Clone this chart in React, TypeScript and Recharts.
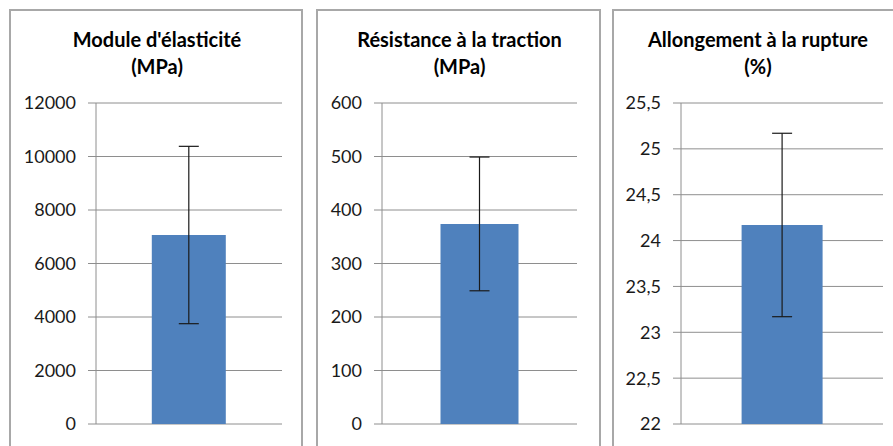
import { Bar, BarChart, CartesianGrid, ErrorBar, XAxis, YAxis } from "recharts";

const moduleData = [{ name: "E", value: 7065, err: 3315 }];
const moduleTicks = [0, 2000, 4000, 6000, 8000, 10000, 12000];

const tractionData = [{ name: "Rm", value: 374, err: 125 }];
const tractionTicks = [0, 100, 200, 300, 400, 500, 600];

const allongData = [{ name: "A", value: 24.17, err: 1.0 }];
const allongTicks = [22, 22.5, 23, 23.5, 24, 24.5, 25, 25.5];

const FONT = "Lato, 'Liberation Sans', sans-serif";
const GRID = "#8e8e8e";

type PanelProps = {
  left: number;
  width: number;
  plotLeft: number;
  plotRight: number;
  title: string[];
  data: { name: string; value: number; err: number }[];
  ticks: number[];
  comma?: boolean;
};

function Panel({ left, width, plotLeft, plotRight, title, data, ticks, comma }: PanelProps) {
  const top = 10;
  const height = 436;
  return (
    <>
      <div
        style={{
          position: "absolute",
          left: left - 1,
          top: top - 1,
          width,
          height: 460,
          border: "2px solid #a8a8a8",
          boxSizing: "border-box",
          background: "#fff",
        }}
      />
      <div
        style={{
          position: "absolute",
          left,
          top: 26,
          width,
          textAlign: "center",
          fontFamily: FONT,
          fontWeight: 700,
          fontSize: 20,
          lineHeight: "27px",
          color: "#000",
        }}
      >
        {title.map((t) => (
          <div key={t}>{t}</div>
        ))}
      </div>
      <div style={{ position: "absolute", left, top }}>
        <BarChart
          width={width}
          height={height}
          data={data}
          margin={{ top: 93, right: left + width - plotRight, left: 0, bottom: 22 }}
          barCategoryGap="30%"
        >
          <CartesianGrid vertical={false} stroke={GRID} strokeWidth={1} />
          <XAxis dataKey="name" hide />
          <YAxis
            width={plotLeft - left}
            domain={[ticks[0], ticks[ticks.length - 1]]}
            ticks={ticks}
            interval={0}
            tickSize={8}
            tickMargin={12}
            axisLine={{ stroke: GRID }}
            tickLine={{ stroke: GRID }}
            tick={{ fill: "#1a1a1a", fontSize: 18, fontFamily: FONT }}
            tickFormatter={(v: number) => (comma ? String(v).replace(".", ",") : String(v))}
          />
          <Bar dataKey="value" fill="#4F81BD" isAnimationActive={false}>
            <ErrorBar dataKey="err" width={10} stroke="#1a1a1a" strokeWidth={1.2} isAnimationActive={false} />
          </Bar>
        </BarChart>
      </div>
    </>
  );
}

export default function App() {
  return (
    <div style={{ position: "absolute", left: 0, top: 0, width: 893, height: 446, overflow: "hidden", background: "#fff" }}>
      <Panel
        left={10}
        width={294}
        plotLeft={96}
        plotRight={282}
        title={["Module d'élasticité", "(MPa)"]}
        data={moduleData}
        ticks={moduleTicks}
      />
      <Panel
        left={317}
        width={285}
        plotLeft={382}
        plotRight={577}
        title={["Résistance à la traction", "(MPa)"]}
        data={tractionData}
        ticks={tractionTicks}
      />
      <Panel
        left={613}
        width={290}
        plotLeft={681}
        plotRight={883}
        title={["Allongement à la rupture", "(%)"]}
        data={allongData}
        ticks={allongTicks}
        comma
      />
    </div>
  );
}
